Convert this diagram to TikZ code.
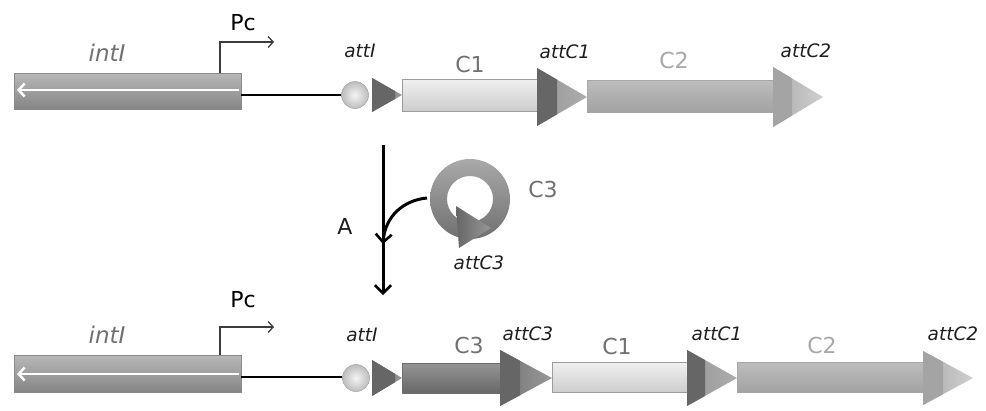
\documentclass[tikz,border=0pt]{standalone}
\usepackage{fontspec}
\setmainfont{DejaVu Sans}
\usetikzlibrary{arrows.meta}
\definecolor{txtgray}{HTML}{707070}
\definecolor{txtlight}{HTML}{A8A8A8}
\definecolor{atttxt}{HTML}{1E1E1E}
\definecolor{intItop}{HTML}{B8B8B8}
\definecolor{intIbot}{HTML}{858585}
\definecolor{intIedge}{HTML}{8A8A8A}
\definecolor{cOneTop}{HTML}{F0F0F0}
\definecolor{cOneBot}{HTML}{CDCDCD}
\definecolor{cOneEdge}{HTML}{9C9C9C}
\definecolor{cTwoTop}{HTML}{BDBDBD}
\definecolor{cTwoBot}{HTML}{A2A2A2}
\definecolor{cTwoEdge}{HTML}{A6A6A6}
\definecolor{cThrTop}{HTML}{959595}
\definecolor{cThrBot}{HTML}{686868}
\definecolor{cThrEdge}{HTML}{6E6E6E}
\definecolor{triDark}{HTML}{666666}
\definecolor{triMid}{HTML}{989898}
\definecolor{triPale}{HTML}{A4A4A4}
\definecolor{triPaler}{HTML}{CFCFCF}
\definecolor{ringTop}{HTML}{A9A9A9}
\definecolor{ringBot}{HTML}{707070}
\definecolor{pcline}{HTML}{3C3C3C}
\definecolor{ballIn}{HTML}{F4F4F4}
\definecolor{ballOut}{HTML}{BDBDBD}

% triangle: #1 x0, #2 xsplit, #3 xapex, #4 ymid, #5 half height, #6 dark style, #7 light style
\newcommand{\mytri}[7]{%
  \path[#7] (#1,#4-#5) -- (#1,#4+#5) -- (#3,#4) -- cycle;
  \begin{scope}
    \clip (#1,#4-#5) rectangle (#2,#4+#5);
    \path[#6] (#1,#4-#5) -- (#1,#4+#5) -- (#3,#4) -- cycle;
  \end{scope}}

\begin{document}
\begin{tikzpicture}[x=1pt,y=-1pt,
  lbl/.style={font=\fontsize{22}{22}\selectfont, inner sep=0pt},
  attlbl/.style={font=\fontsize{18.5}{18.5}\selectfont\itshape, inner sep=0pt, text=atttxt},
  genelbl/.style={font=\fontsize{23}{23}\selectfont\itshape, inner sep=0pt, text=txtgray},
  intIbox/.style={top color=intItop, bottom color=intIbot, draw=intIedge, line width=0.8pt},
  cOnebox/.style={top color=cOneTop, bottom color=cOneBot, draw=cOneEdge, line width=0.8pt},
  cTwobox/.style={top color=cTwoTop, bottom color=cTwoBot, draw=cTwoEdge, line width=0.8pt},
  cThrbox/.style={top color=cThrTop, bottom color=cThrBot, draw=cThrEdge, line width=0.8pt},
  whitearrow/.style={draw=white, line width=2.4pt, -{Straight Barb[length=6pt,width=13pt,line width=2.4pt]}},
  pcarrow/.style={draw=pcline, line width=1.3pt, -{Straight Barb[length=5pt,width=11pt]}},
  dnaline/.style={draw=black, line width=2.6pt},
  bigarrow/.style={draw=black, line width=3pt, -{Straight Barb[length=8pt,width=16pt,line width=2.6pt]}},
  attball/.style={inner color=ballIn, outer color=ballOut, draw=ballOut!85!black, line width=0.5pt},
]
\useasboundingbox (0,0) rectangle (986,410);

%% ---------- top row ----------
\path[intIbox] (14,73) rectangle (241,109);
\coordinate (tWs) at (239,90);
\coordinate (tWe) at (17,90);
\draw[whitearrow] (tWs) -- (tWe);
\coordinate (tPc0) at (220,73);
\coordinate (tPc1) at (220,42);
\coordinate (tPc2) at (274,42);
\draw[pcarrow] (tPc0) -- (tPc1) -- (tPc2);
\node[lbl] (tPc) at (243,23) {Pc};
\node[genelbl] (tint) at (107,53) {intI};

\coordinate (tL0) at (241,95);
\coordinate (tL1) at (343,95);
\draw[dnaline] (tL0) -- (tL1);
\path[attball] (355,95) circle[radius=13.5];
\mytri{372}{395}{402}{95}{17}{left color=triDark, right color=triDark}{left color=triDark, right color=triMid}
\node[attlbl] (tattI) at (360,51) {attI};

\path[cOnebox] (402,79) rectangle (537,111);
\node[lbl, text=txtgray] (tC1) at (470,64) {C1};
\mytri{537}{557}{587}{97}{29}{fill=triDark}{left color=triMid, right color=triMid!80!white}
\node[attlbl] (tattC1) at (565,52) {attC1};

\path[cTwobox] (587,80) rectangle (773,112);
\node[lbl, text=txtlight] (tC2) at (674,60) {C2};
\mytri{773}{792}{823}{97}{30}{fill=triPale}{left color=triPale!90!white, right color=triPaler}
\node[attlbl] (tattC2) at (806,51) {attC2};

%% ---------- middle ----------
\coordinate (arTop) at (383,145);
\coordinate (arBot) at (383,295);
\draw[bigarrow] (arTop) -- (arBot);
\node[lbl, text=atttxt] (A) at (345,226) {A};

\shade[even odd rule, top color=ringTop, bottom color=ringBot]
  (470,199) circle[radius=40] (470,199) circle[radius=23];
\shade[left color=triDark, right color=triMid] (456,206) -- (459,248) -- (491,228) -- cycle;
\node[lbl, text=txtgray] (C3ring) at (543,189) {C3};
\node[attlbl] (mattC3) at (479,263) {attC3};
\coordinate (cvS) at (427,198);
\coordinate (cvE) at (383,244);
\draw[bigarrow] (cvS) .. controls (404,200) and (385,216) .. (cvE);

%% ---------- bottom row ----------
\path[intIbox] (14,355) rectangle (241,392);
\coordinate (bWs) at (239,374);
\coordinate (bWe) at (17,374);
\draw[whitearrow] (bWs) -- (bWe);
\coordinate (bPc0) at (220,355);
\coordinate (bPc1) at (220,327);
\coordinate (bPc2) at (274,327);
\draw[pcarrow] (bPc0) -- (bPc1) -- (bPc2);
\node[lbl] (bPc) at (243,300) {Pc};
\node[genelbl] (bint) at (107,335) {intI};

\coordinate (bL0) at (241,377);
\coordinate (bL1) at (344,377);
\draw[dnaline] (bL0) -- (bL1);
\path[attball] (356,378) circle[radius=13.5];
\mytri{372}{395}{402}{378}{18}{left color=triDark, right color=triDark}{left color=triDark, right color=triMid}
\node[attlbl] (battI) at (362,335) {attI};

\path[cThrbox] (402,363) rectangle (500,393);
\node[lbl, text=txtgray] (bC3) at (469,345) {C3};
\mytri{500}{520}{552}{378}{28}{fill=triDark}{left color=triDark!90!white, right color=triMid}
\node[attlbl] (battC3) at (528,334) {attC3};

\path[cOnebox] (552,362) rectangle (687,392);
\node[lbl, text=txtgray] (bC1) at (617,346) {C1};
\mytri{687}{705}{737}{378}{28}{fill=triDark}{left color=triMid, right color=triMid!80!white}
\node[attlbl] (battC1) at (717,334) {attC1};

\path[cTwobox] (737,362) rectangle (923,392);
\node[lbl, text=txtlight] (bC2) at (822,345) {C2};
\mytri{923}{943}{973}{378}{27}{fill=triPale}{left color=triPale!90!white, right color=triPaler}
\node[attlbl] (battC2) at (953,334) {attC2};
\end{tikzpicture}
\end{document}
